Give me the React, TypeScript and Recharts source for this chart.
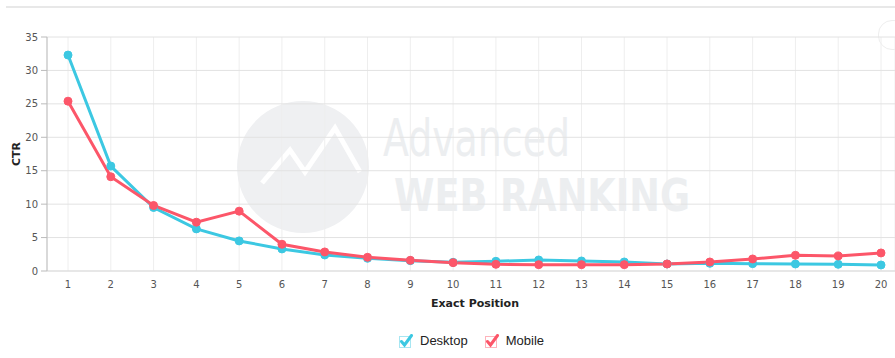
import { LineChart, Line, XAxis, YAxis, CartesianGrid } from 'recharts';

const positions = ['1', '2', '3', '4', '5', '6', '7', '8', '9', '10', '11', '12', '13', '14', '15', '16', '17', '18', '19', '20'];
const desktopCtr = [32.3, 15.7, 9.5, 6.3, 4.5, 3.3, 2.4, 1.9, 1.55, 1.3, 1.45, 1.65, 1.5, 1.35, 1.05, 1.15, 1.1, 1.05, 1.0, 0.9];
const mobileCtr = [25.4, 14.1, 9.8, 7.3, 8.95, 4.0, 2.85, 2.05, 1.6, 1.25, 1.0, 0.95, 0.95, 0.95, 1.05, 1.35, 1.8, 2.35, 2.25, 2.7];
const yTicks = [0, 5, 10, 15, 20, 25, 30, 35];

const DESKTOP = '#3cc8e2';
const MOBILE = '#fc5669';

const data = positions.map((p, i) => ({ position: p, desktop: desktopCtr[i], mobile: mobileCtr[i] }));

const tickStyle = { fontSize: 10, fill: '#555', fontFamily: 'DejaVu Sans, sans-serif' };

function CheckIcon({ color }: { color: string }) {
  return (
    <svg width={15} height={14} viewBox="0 0 15 14" style={{ marginRight: 6 }}>
      <rect x={0.5} y={2.5} width={11} height={11} fill="none" stroke={color} strokeOpacity={0.45} />
      <path d="M2.5 7.5 L5.5 11 L12.5 1.5" fill="none" stroke={color} strokeWidth={3} strokeLinecap="round" />
    </svg>
  );
}

// faint brand watermark behind the plot
function Watermark() {
  return (
    <svg width={895} height={358} style={{ position: 'absolute', left: 0, top: 0 }}>
      <circle cx={303} cy={167} r={66} fill="#eff0f2" />
      <path d="M262 183 L290 150 L305 172 L335 128 L360 172" fill="none" stroke="#fff" strokeWidth={5} />
      <text x={383} y={156} textLength={187} lengthAdjust="spacingAndGlyphs" fontSize={52}
        fontFamily="DejaVu Sans Condensed, DejaVu Sans, sans-serif" fontWeight={200} fill="#eceef0">Advanced</text>
      <text x={394} y={211} textLength={296} lengthAdjust="spacingAndGlyphs" fontSize={44}
        fontFamily="DejaVu Sans Condensed, DejaVu Sans, sans-serif" fontWeight={700} fill="#eceef0">WEB RANKING</text>
    </svg>
  );
}

export default function App() {
  return (
    <div style={{ position: 'absolute', left: 0, top: 0, width: 895, height: 358, background: '#fff', overflow: 'hidden' }}>
      <div style={{ position: 'absolute', left: 6, right: 0, top: 6, height: 2, background: '#e8e8e8' }} />
      <div style={{ position: 'absolute', left: 878, top: 20, width: 28, height: 28, borderRadius: 14, border: '1px solid #eee' }} />
      <Watermark />
      <div style={{ position: 'absolute', left: 0, top: 0 }}>
        <LineChart width={895} height={358} data={data} margin={{ top: 37, right: 0, left: 0, bottom: 57 }}>
          <CartesianGrid horizontal={false} stroke="#eeeeee" fill="none" />
          <CartesianGrid vertical={false} stroke="#e2e2e2" fill="none" />
          <XAxis
            dataKey="position"
            interval={0}
            height={30}
            padding={{ left: 21, right: 14 }}
            tick={tickStyle}
            tickLine={false}
            axisLine={{ stroke: '#dddddd' }}
            tickMargin={4}
            label={{
              content: (props: any) => {
                const vb = props.viewBox;
                return (
                  <text x={vb.x + vb.width / 2 + 4} y={vb.y + 36} textAnchor="middle" fontSize={11}
                    fontWeight={700} fill="#222" fontFamily="DejaVu Sans, sans-serif">Exact Position</text>
                );
              },
            }}
          />
          <YAxis
            width={47}
            domain={[0, 35]}
            ticks={yTicks}
            tick={tickStyle}
            tickLine={{ stroke: '#bbbbbb' }}
            axisLine={{ stroke: '#bbbbbb' }}
            tickMargin={3}
            label={{
              content: (props: any) => {
                const vb = props.viewBox;
                const x = vb.x + 20;
                const y = vb.y + vb.height / 2;
                return (
                  <text x={x} y={y} transform={`rotate(-90 ${x} ${y})`} textAnchor="middle" fontSize={11}
                    fontWeight={700} fill="#222" fontFamily="DejaVu Sans, sans-serif">CTR</text>
                );
              },
            }}
          />
          <Line type="linear" dataKey="desktop" stroke={DESKTOP} strokeWidth={3}
            dot={{ r: 4, fill: DESKTOP, stroke: DESKTOP, strokeWidth: 1 }} isAnimationActive={false} />
          <Line type="linear" dataKey="mobile" stroke={MOBILE} strokeWidth={3}
            dot={{ r: 4, fill: MOBILE, stroke: MOBILE, strokeWidth: 1 }} isAnimationActive={false} />
        </LineChart>
      </div>
      <div style={{ position: 'absolute', left: 399, top: 333, display: 'flex', alignItems: 'center',
        fontFamily: 'Liberation Sans, Arial, sans-serif', fontSize: 13, color: '#222' }}>
        <CheckIcon color={DESKTOP} />
        <span style={{ marginRight: 17 }}>Desktop</span>
        <CheckIcon color={MOBILE} />
        <span>Mobile</span>
      </div>
    </div>
  );
}
